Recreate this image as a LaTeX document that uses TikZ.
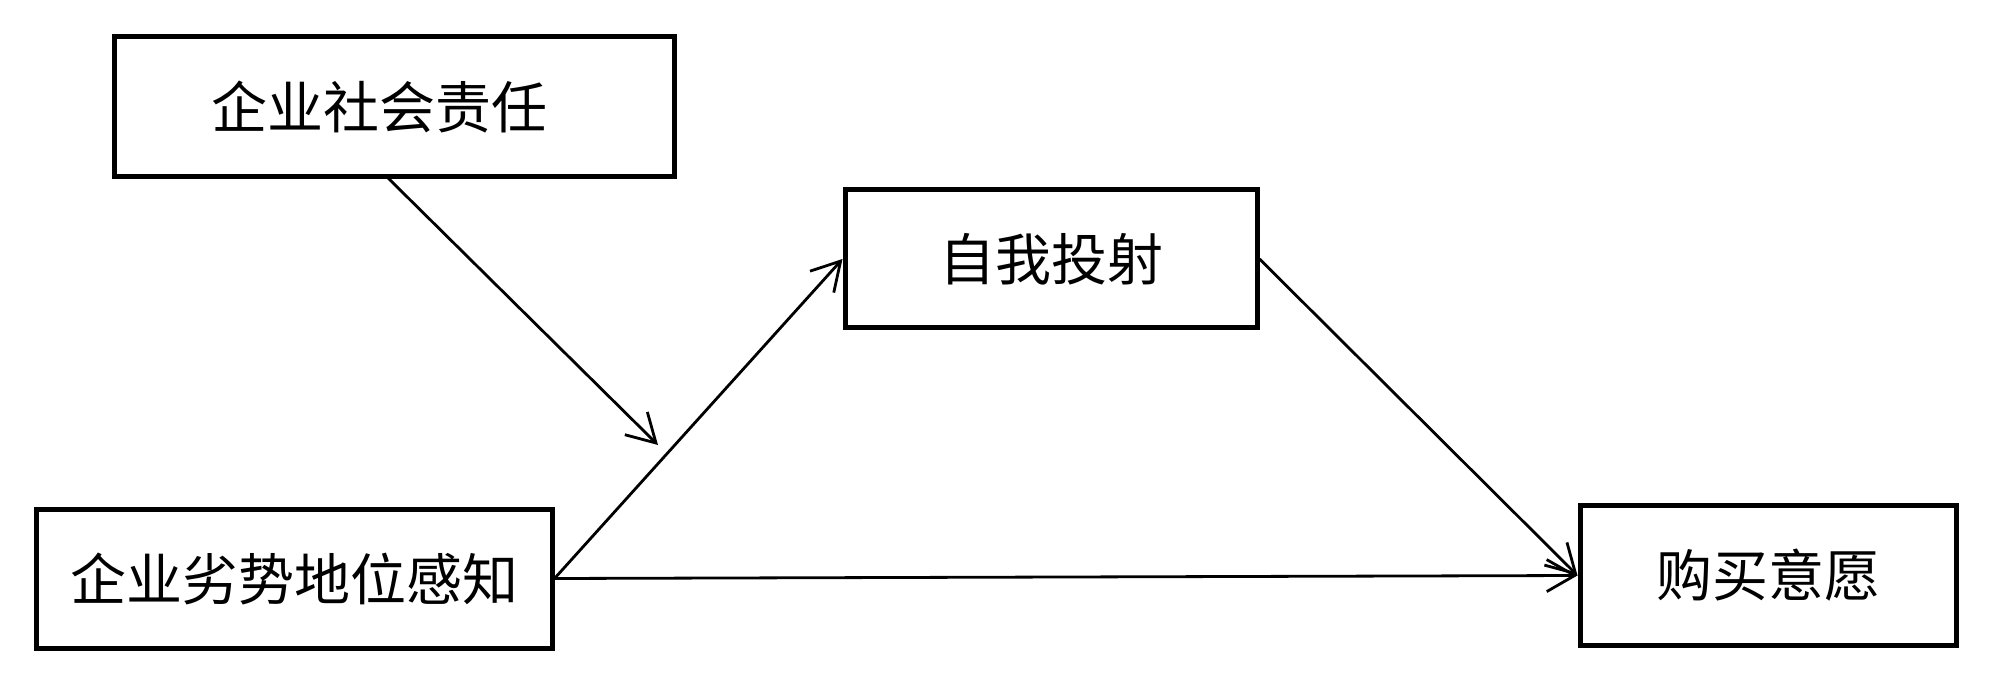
\documentclass[tikz,border=0pt]{standalone}
\usepackage{fontspec}
\newfontfamily\cjk{Noto Sans CJK SC}
\usetikzlibrary{arrows.meta}
\tikzset{
  vbox/.style={draw=black, line width=2.5pt, inner sep=0pt, fill=white,
    font=\cjk\fontsize{28}{32}\selectfont},
  conn/.style={line width=1.4pt, -{Straight Barb[length=14pt,width=16pt,line width=1.4pt]}}
}
\begin{document}
\begin{tikzpicture}[x=0.5pt,y=-0.5pt]
\useasboundingbox (0,0) rectangle (2000,694);
\node[vbox, minimum width=280pt, minimum height=70pt] (csr) at (394,107) {\hspace*{-15pt}企业社会责任};
\node[vbox, minimum width=206pt, minimum height=69pt] (proj) at (1051,259) {自我投射};
\node[vbox, minimum width=258pt, minimum height=69.5pt] (perc) at (294,578.5) {企业劣势地位感知};
\node[vbox, minimum width=188pt, minimum height=70pt] (buy) at (1768,575.5) {购买意愿};
\coordinate (mtip) at (658,445);
\draw[conn] (388,178) -- (mtip);
\draw[conn] (perc.east) -- (proj.west);
\draw[conn] (perc.east) -- (buy.west);
\draw[conn] (proj.east) -- (buy.west);
\end{tikzpicture}
\end{document}
